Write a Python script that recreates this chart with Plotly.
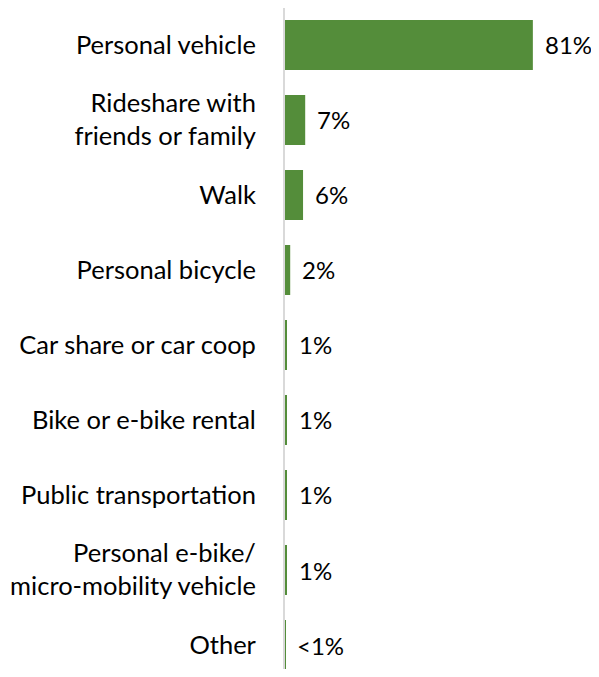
import plotly.graph_objects as go

# modos de transporte (de arriba hacia abajo)
categorias = [
    "Personal vehicle",
    "Rideshare with<br>friends or family",
    "Walk",
    "Personal bicycle",
    "Car share or car coop",
    "Bike or e-bike rental",
    "Public transportation",
    "Personal e-bike/<br>micro-mobility vehicle",
    "Other",
]
valores = [81, 6.6, 5.9, 1.7, 0.6, 0.6, 0.6, 0.6, 0.1]
etiquetas = ["81%", "7%", "6%", "2%", "1%", "1%", "1%", "1%", "<1%"]

verde = "#548D3A"
fuente = "Lato"
tam = 25.5

fig = go.Figure(go.Bar(
    x=valores,
    y=categorias,
    orientation="h",
    marker=dict(color=verde, line=dict(width=0)),
    width=0.667,
    hoverinfo="skip",
    cliponaxis=False,
))

# etiquetas de valor a la derecha de cada barra
for cat, val, txt in zip(categorias, valores, etiquetas):
    fig.add_annotation(
        x=val, y=cat, text=txt, showarrow=False,
        xanchor="left", xshift=10,
        font=dict(family=fuente, size=24, color="#000000"),
    )

# la página tiene 8px de margen: el gráfico empieza en (8, 8)
fig.update_layout(
    width=583, height=661,
    margin=dict(l=277, r=0, t=0, b=0, autoexpand=False),
    paper_bgcolor="white", plot_bgcolor="white",
    showlegend=False,
    font=dict(family=fuente, size=tam, color="#000000"),
)
fig.update_xaxes(range=[0, 306 / 3.06], visible=False, fixedrange=True, automargin=False)
fig.update_yaxes(
    type="category",
    categoryorder="array", categoryarray=categorias,
    range=[8.32, -0.493],
    automargin=False,
    showgrid=False, zeroline=False,
    showline=True, linecolor="#D9D9D9", linewidth=2,
    ticks="", ticklabelstandoff=22,
    tickfont=dict(family=fuente, size=tam, color="#000000"),
)

fig.write_html("out.html")
